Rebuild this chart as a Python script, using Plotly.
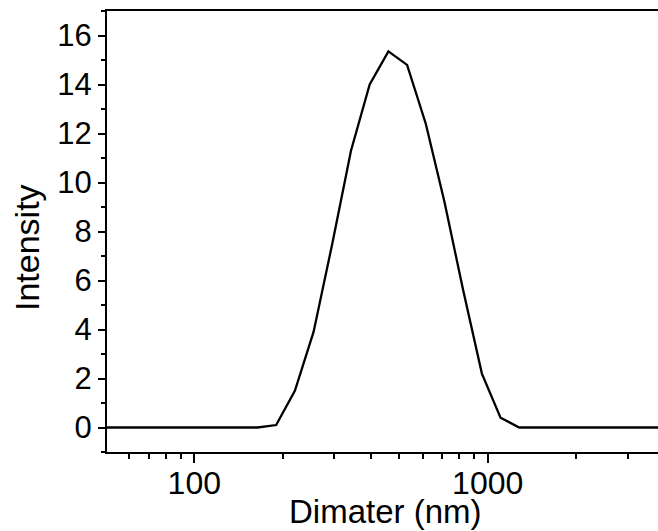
import math
import plotly.graph_objects as go

# Data (DLS size distribution by intensity)
diameter_nm = [43.82, 50.75, 58.77, 68.06, 78.82, 91.28, 105.7, 122.4, 141.8, 164.2,
               190.1, 220.2, 255.0, 295.3, 342.0, 396.1, 458.7, 531.2, 615.1, 712.4,
               825.0, 955.4, 1106, 1281, 1484, 1718, 1990, 2305, 2669, 3091, 3580,
               4145, 4801, 5560]
intensity = [0, 0, 0, 0, 0, 0, 0, 0, 0, 0,
             0.1, 1.5, 3.9, 7.5, 11.3, 14.0, 15.35, 14.8, 12.4, 9.2,
             5.6, 2.2, 0.4, 0, 0, 0, 0, 0, 0, 0, 0,
             0, 0, 0]

x_tickvals = [100, 1000]
x_ticktext = ["100", "1000"]
x_minor = [60, 70, 80, 90, 200, 300, 400, 500, 600, 700, 800, 900, 2000, 3000, 4000]
y_tickvals = [0, 2, 4, 6, 8, 10, 12, 14, 16]
y_minor = [-1, 1, 3, 5, 7, 9, 11, 13, 15, 17]
x_title = "Dimater (nm)"
y_title = "Intensity"

font_family = "Liberation Sans, Arial, sans-serif"
W, H = 658, 531
ML, MR, MT, MB = 107, 0, 11, 79
pw, ph = W - ML - MR, H - MT - MB

fig = go.Figure()
fig.add_trace(go.Scatter(x=diameter_nm, y=intensity, mode="lines",
                         line=dict(color="black", width=2.3), showlegend=False))

fig.update_layout(
    width=W, height=H,
    margin=dict(l=ML, r=MR, t=MT, b=MB, autoexpand=False),
    paper_bgcolor="white", plot_bgcolor="white",
    font=dict(family=font_family, color="black"),
    xaxis=dict(
        type="log", range=[1.7025, 3.5804], automargin=False,
        showline=True, linecolor="black", linewidth=2, mirror=True,
        showgrid=False, zeroline=False,
        tickmode="array", tickvals=x_tickvals, ticktext=x_ticktext,
        ticks="outside", ticklen=9, tickwidth=2, tickcolor="black",
        ticklabelstandoff=-7,
        tickfont=dict(size=32, family=font_family, color="black"),
        minor=dict(tickmode="array", tickvals=x_minor, ticks="outside",
                   ticklen=5, tickwidth=2, tickcolor="black", showgrid=False),
    ),
    yaxis=dict(
        range=[-1, 17], automargin=False,
        showline=True, linecolor="black", linewidth=2, mirror=False,
        showgrid=False, zeroline=False,
        tickmode="array", tickvals=y_tickvals,
        ticks="outside", ticklen=7, tickwidth=2, tickcolor="black",
        tickfont=dict(size=31, family=font_family, color="black"),
        minor=dict(tickmode="array", tickvals=y_minor, ticks="outside",
                   ticklen=4, tickwidth=2, tickcolor="black", showgrid=False),
    ),
    annotations=[
        dict(text=x_title, xref="paper", yref="paper",
             x=(385 - ML) / pw, y=(H - MB - 511) / ph,
             xanchor="center", yanchor="middle", showarrow=False,
             font=dict(size=33, family=font_family, color="black")),
        dict(text=y_title, xref="paper", yref="paper",
             x=(27 - ML) / pw, y=(H - MB - 248) / ph, textangle=-90,
             xanchor="center", yanchor="middle", showarrow=False,
             font=dict(size=34, family=font_family, color="black")),
    ],
)

fig.write_html("out.html", config={"displayModeBar": False},
               post_script="document.body.style.margin='0';document.body.style.overflow='hidden';")
